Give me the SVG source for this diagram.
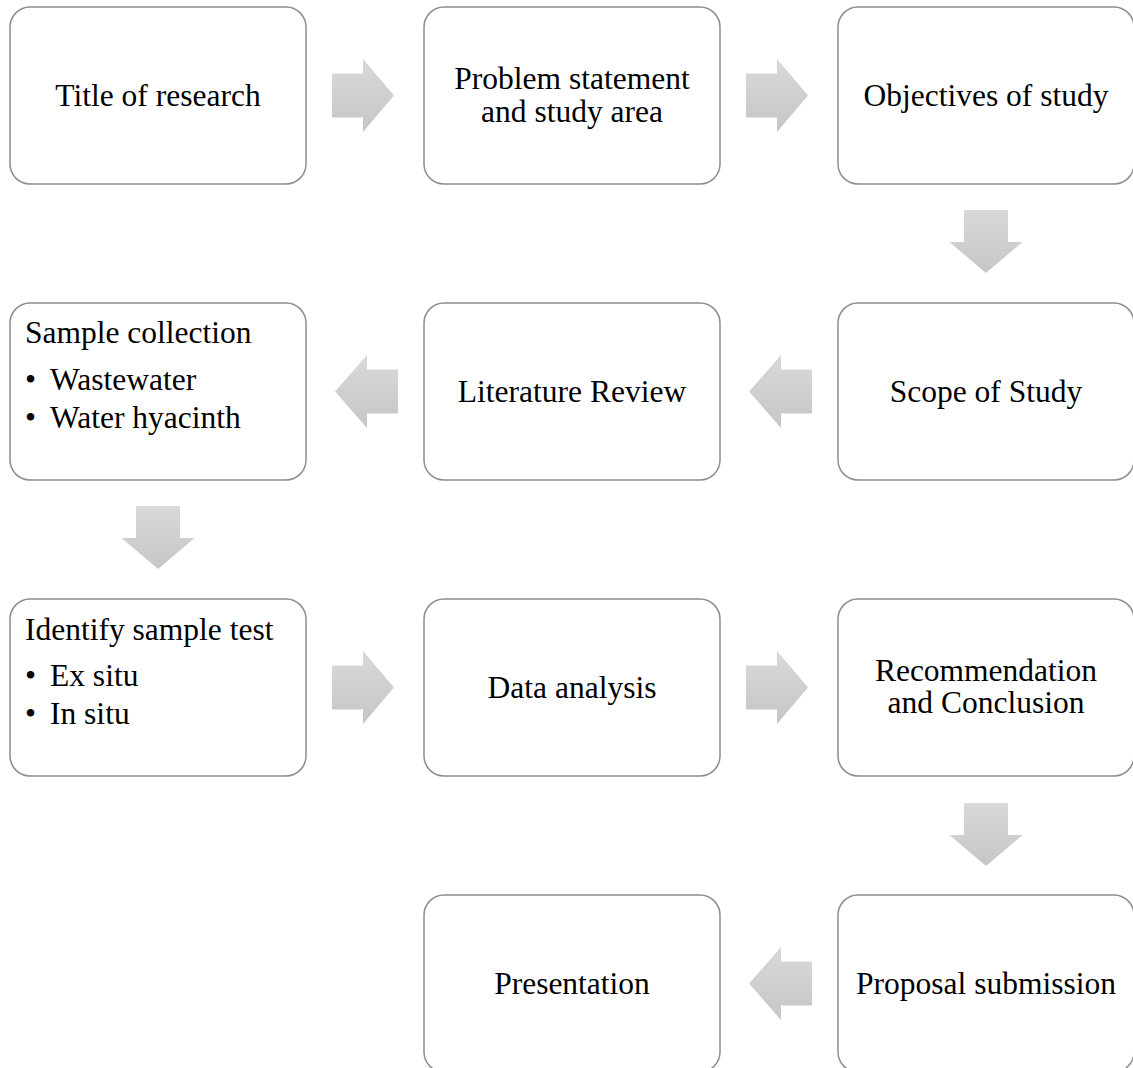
<svg xmlns="http://www.w3.org/2000/svg" width="1133" height="1068" viewBox="0 0 1133 1068">
<defs>
<linearGradient id="gh" x1="0" y1="0" x2="0" y2="1">
<stop offset="0" stop-color="#d9d9d9"/>
<stop offset="1" stop-color="#c6c6c6"/>
</linearGradient>
<style>
.box{fill:#ffffff;stroke:#8c8c8c;stroke-width:1.5}
.arr{fill:url(#gh);stroke:none}
.t{font-family:"Liberation Serif","Times New Roman",serif;font-size:31.5px;fill:#000000}
.c{text-anchor:middle}
</style>
</defs>
<rect width="1133" height="1068" fill="#ffffff"/>
<g id="connectors">
<path class="arr" d="M332,73.5 H363 V59 L394,95.5 L363,132 V117.5 H332 Z"/>
<path class="arr" d="M746,73.5 H777 V59 L808,95.5 L777,132 V117.5 H746 Z"/>
<path class="arr" d="M964,210 V242 H949.5 L986,273 L1022.5,242 H1008 V210 Z"/>
<path class="arr" d="M812,369.5 H781 V355 L749,391.5 L781,428 V413.5 H812 Z"/>
<path class="arr" d="M398,369.5 H367 V355 L335,391.5 L367,428 V413.5 H398 Z"/>
<path class="arr" d="M136,506 V538 H121.5 L158,569 L194.5,538 H180 V506 Z"/>
<path class="arr" d="M332,665.5 H363 V651 L394,687.5 L363,724 V709.5 H332 Z"/>
<path class="arr" d="M746,665.5 H777 V651 L808,687.5 L777,724 V709.5 H746 Z"/>
<path class="arr" d="M964,803 V835 H949.5 L986,866 L1022.5,835 H1008 V803 Z"/>
<path class="arr" d="M812,961.5 H781 V947 L749,983.5 L781,1020 V1005.5 H812 Z"/>
</g>
<g id="n1"><rect class="box" x="10" y="7" width="296" height="177" rx="20"/><text class="t c" x="158" y="106">Title of research</text></g>
<g id="n2"><rect class="box" x="424" y="7" width="296" height="177" rx="20"/><text class="t c" x="572" y="89">Problem statement</text><text class="t c" x="572" y="121.5">and study area</text></g>
<g id="n3"><rect class="box" x="838" y="7" width="296" height="177" rx="20"/><text class="t c" x="986" y="106">Objectives of study</text></g>
<g id="n4"><rect class="box" x="838" y="303" width="296" height="177" rx="20"/><text class="t c" x="986" y="402">Scope of Study</text></g>
<g id="n5"><rect class="box" x="424" y="303" width="296" height="177" rx="20"/><text class="t c" x="572" y="402">Literature Review</text></g>
<g id="n6"><rect class="box" x="10" y="303" width="296" height="177" rx="20"/>
<text class="t" x="25" y="343">Sample collection</text>
<text class="t" y="390"><tspan x="25">•</tspan><tspan x="50">Wastewater</tspan></text>
<text class="t" y="428"><tspan x="25">•</tspan><tspan x="50">Water hyacinth</tspan></text></g>
<g id="n7"><rect class="box" x="10" y="599" width="296" height="177" rx="20"/>
<text class="t" x="25" y="640">Identify sample test</text>
<text class="t" y="686"><tspan x="25">•</tspan><tspan x="50">Ex situ</tspan></text>
<text class="t" y="724"><tspan x="25">•</tspan><tspan x="50">In situ</tspan></text></g>
<g id="n8"><rect class="box" x="424" y="599" width="296" height="177" rx="20"/><text class="t c" x="572" y="698">Data analysis</text></g>
<g id="n9"><rect class="box" x="838" y="599" width="296" height="177" rx="20"/><text class="t c" x="986" y="681">Recommendation</text><text class="t c" x="986" y="713">and Conclusion</text></g>
<g id="n10"><rect class="box" x="838" y="895" width="296" height="177" rx="20"/><text class="t c" x="986" y="994">Proposal submission</text></g>
<g id="n11"><rect class="box" x="424" y="895" width="296" height="177" rx="20"/><text class="t c" x="572" y="994">Presentation</text></g>
</svg>
